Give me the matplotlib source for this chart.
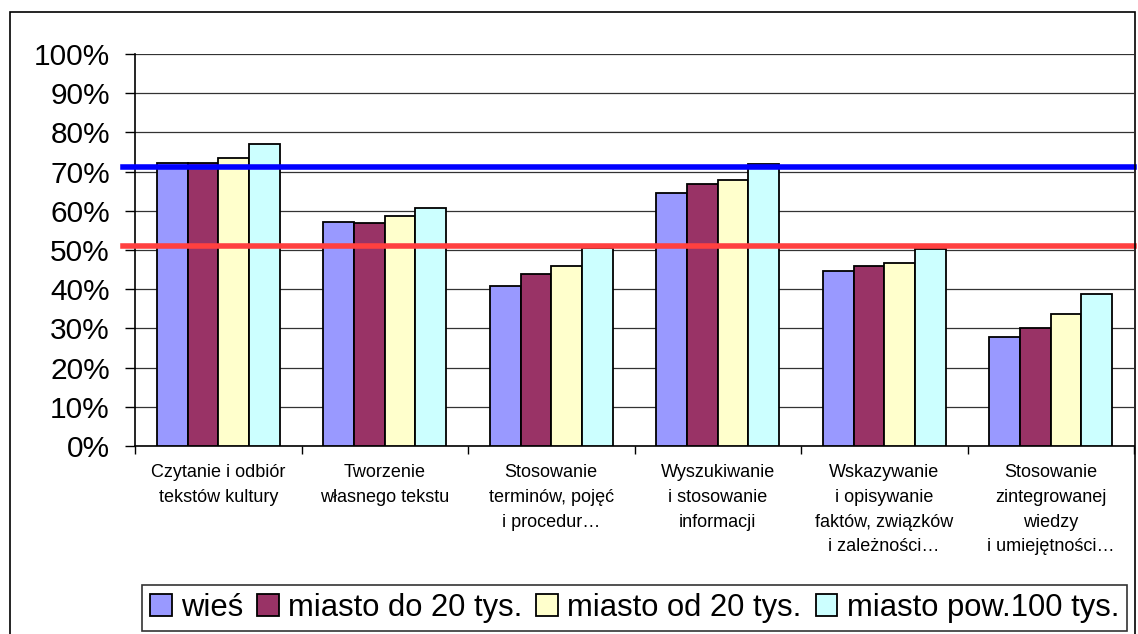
import matplotlib
matplotlib.use('Agg')
import matplotlib.pyplot as plt
from matplotlib.patches import Rectangle
import numpy as np

plt.rcParams['font.family'] = ['Liberation Sans', 'DejaVu Sans']

categories = ['Czytanie i odbiór\ntekstów kultury',
              'Tworzenie\nwłasnego tekstu',
              'Stosowanie\nterminów, pojęć\ni procedur…',
              'Wyszukiwanie\ni stosowanie\ninformacji',
              'Wskazywanie\ni opisywanie\nfaktów, związków\ni zależności…',
              'Stosowanie\nzintegrowanej\nwiedzy\ni umiejętności…']
series_names = ['wieś', 'miasto do 20 tys.', 'miasto od 20 tys.', 'miasto pow.100 tys.']
wies = [72.2, 57.1, 40.8, 64.6, 44.6, 27.9]
miasto_do_20 = [72.2, 57.0, 43.9, 66.8, 45.9, 30.0]
miasto_od_20 = [73.5, 58.7, 45.9, 67.9, 46.8, 33.8]
miasto_pow_100 = [77.0, 60.7, 50.4, 71.9, 50.3, 38.8]
colors = ['#9999FF', '#993366', '#FFFFCC', '#CCFFFF']
line_blue = 71.2
line_red = 51.0

fig = plt.figure(figsize=(11.38, 6.34), dpi=100)
ax = fig.add_axes([135/1138, 1-446/634, 999/1138, 392/634])

x = np.arange(len(categories))
w = 0.184
all_series = [wies, miasto_do_20, miasto_od_20, miasto_pow_100]
handles = []
for i, (vals, c) in enumerate(zip(all_series, colors)):
    b = ax.bar(x + (i - 1.5) * w, vals, w, color=c, edgecolor='black', linewidth=1.3, zorder=3)
    handles.append(b)

ax.axhline(line_blue, xmin=-0.012, xmax=1, color='#0000FF', lw=4, zorder=4, clip_on=False)
ax.axhline(line_red, xmin=-0.012, xmax=1, color='#FF4040', lw=4, zorder=4, clip_on=False)

ax.set_ylim(0, 100)
ax.set_xlim(-0.5, 5.5)
ax.set_yticks(np.arange(0, 101, 10))
ax.set_yticklabels(['%d%%' % v for v in range(0, 101, 10)], fontsize=21.5)
ax.yaxis.grid(True, color='#333333', lw=0.9, zorder=0)
ax.tick_params(axis='y', direction='out', length=7, width=1, pad=11)

ax.set_xticks(np.arange(-0.5, 6, 1))
ax.set_xticklabels([])
ax.set_xticks(x, minor=True)
ax.set_xticklabels(categories, minor=True, fontsize=13, linespacing=1.6, va='top')
ax.tick_params(axis='x', which='major', direction='out', length=6, width=1)
ax.tick_params(axis='x', which='minor', length=0, pad=13)

for s in ['top', 'right']:
    ax.spines[s].set_visible(False)
ax.spines['left'].set_linewidth(1.2)
ax.spines['bottom'].set_linewidth(1.2)

fig.add_artist(Rectangle((10/1138, -0.1), 1125/1138, 1.1 - 12/634, transform=fig.transFigure,
                         fill=False, edgecolor='black', lw=1.2))

leg = fig.legend(handles, series_names, loc='center', ncol=4,
                 bbox_to_anchor=(634.5/1138, 1-608/634), fontsize=22.3,
                 frameon=True, fancybox=False, edgecolor='black',
                 handlelength=0.7, handleheight=0.7, handletextpad=0.3,
                 columnspacing=0.45, borderpad=0.25, borderaxespad=0)
leg.get_frame().set_linewidth(1.2)

fig.savefig('out.png', dpi=100)
